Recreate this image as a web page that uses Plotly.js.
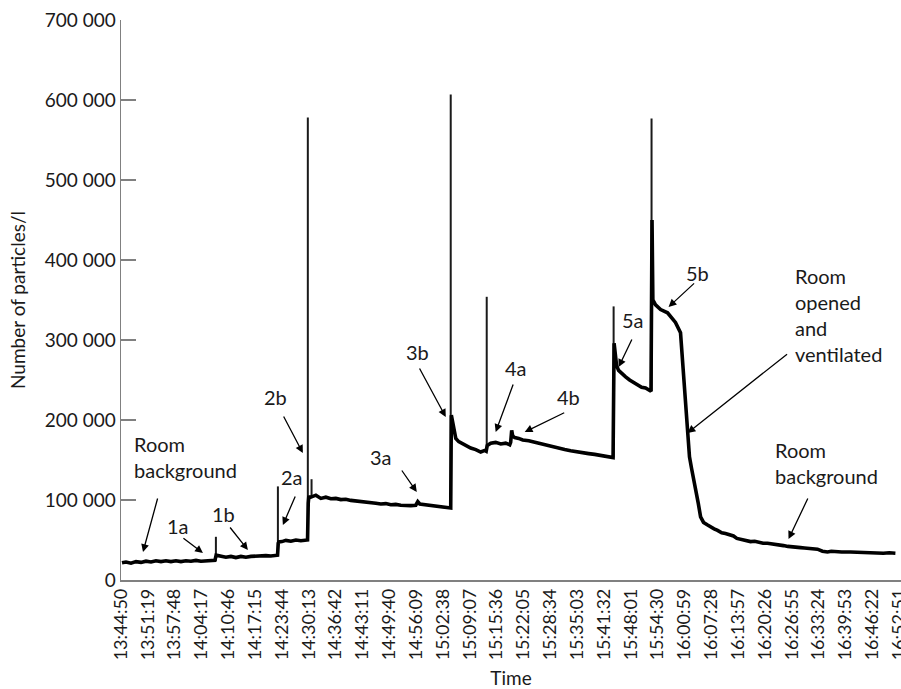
<!DOCTYPE html>
<html>
<head>
<meta charset="utf-8">
<script src="https://cdn.plot.ly/plotly-3.0.1.min.js"></script>
<style>html,body{margin:0;padding:0;background:#fff;}#chart{width:901px;height:689px;}</style>
</head>
<body>
<div id="chart"></div>
<script>
// Elapsed seconds since 13:44:50 and particle counts (particles/l)
const elapsedSec = [14,72,145,217,290,362,435,507,580,652,724,797,869,942,1014,1087,1159,1232,1304,1362,
  1380,1449,1521,1594,1666,1739,1811,1884,1956,2028,2101,2173,2260,
  2270,2280,2289,2333,2391,2463,2536,2608,2695,
  2705,2715,2724,2738,2763,2782,2825,2898,2970,3043,3115,3188,3260,3332,3405,3477,3550,3622,3695,3767,3840,3912,3984,4057,4129,4202,4274,4303,4332,4419,4492,4564,4636,4709,4767,
  4781,4790,4803,4825,4854,4897,4955,5013,5071,5144,5216,5274,5295,
  5310,5361,5433,5506,5578,5636,5650,5665,5680,5709,5767,5825,5912,5998,6085,6172,6259,6346,6433,6520,6607,6694,6781,6868,6955,7042,7114,7135,
  7150,7165,7186,7215,7259,7317,7375,7433,7491,7549,7606,7664,7685,
  7700,7705,7712,7751,7824,7925,8040,8113,8142,8186,8219,8243,8272,8301,8335,8370,8404,8447,8500,8548,8600,8650,8710,8765,8820,8881,8930,8982,9050,9128,9190,9244,9310,9374,9430,9490,9550,9606,9670,9737,9800,9853,9910,9968,10030,10099,10171,10244,10300,10360,10450,10577,10680,10794,10920,11055,11140,11229,11316];
const particles = [21500,22500,21000,23000,22000,23500,22500,24000,23000,24000,23000,24000,23000,24000,23500,24500,23500,24000,24000,24500,
  31000,29500,28500,29500,28000,29500,28500,29500,30000,29500,30500,30000,31000,
  31000,46000,47500,48000,49500,48500,50000,49000,50500,
  50000,96000,105000,103000,104000,104000,106000,102000,103500,101500,102000,100500,101000,99500,99000,98000,97500,96500,96000,95000,95500,94000,94500,93500,93000,93000,93500,98000,95000,94000,93000,92500,92000,91000,90500,
  90000,206000,200000,185000,177000,173000,170000,167000,165000,163000,160000,162000,161000,
  168000,171000,172000,170000,171000,169000,172000,187000,180000,178000,177000,175000,174000,172000,170000,168000,166000,164500,163000,161500,160000,159000,158000,157000,156000,155000,154000,153000,
  296000,280000,268000,262000,258000,254000,250000,247000,244000,241000,240000,237000,236000,
  450000,390000,350000,344000,338000,334000,322000,309000,275000,225000,179000,154000,140000,125000,112000,96000,79000,72000,69000,66000,64000,62000,59000,58000,56000,55000,52000,51000,49000,48000,48500,47000,46000,46000,45500,44000,44500,43000,42000,41500,42000,40500,40000,39500,38500,38500,36000,35000,36000,35500,35000,35000,34500,34500,34000,33500,34000,33500];

// Short transient peaks (thin spikes)
const spikeSec  = [1376, 2275, 2709, 2763, 4781, 5303, 7143, 7693];
const spikeBase = [24000, 31000, 50000, 104000, 90000, 162000, 153000, 236000];
const spikePeak = [54000, 117000, 578000, 126000, 607000, 354000, 342000, 577000];

// Axis tick labels (clock time)
const tickLabels = ['13:44:50','13:51:19','13:57:48','14:04:17','14:10:46','14:17:15','14:23:44','14:30:13','14:36:42','14:43:11',
  '14:49:40','14:56:09','15:02:38','15:09:07','15:15:36','15:22:05','15:28:34','15:35:03','15:41:32','15:48:01',
  '15:54:30','16:00:59','16:07:28','16:13:57','16:20:26','16:26:55','16:33:24','16:39:53','16:46:22','16:52:51'];
const yTicks = [0,100000,200000,300000,400000,500000,600000,700000];

function toSec(s){const p=s.split(':').map(Number);return p[0]*3600+p[1]*60+p[2];}
const t0 = toSec(tickLabels[0]);
const tickVals = tickLabels.map(l => toSec(l) - t0);

const sx=[], sy=[];
spikeSec.forEach((s,i)=>{sx.push(s,s,null); sy.push(spikeBase[i],spikePeak[i],null);});

const FONT = 'Lato, "Noto Sans", sans-serif';
const traces = [
  {x: sx, y: sy, mode:'lines', line:{color:'#1a1a1a', width:2}, hoverinfo:'skip', showlegend:false},
  {x: elapsedSec, y: particles, mode:'lines', line:{color:'#000', width:3.6}, showlegend:false}
];

function arrow(x,y,ax,ay){return {x:x,y:y,xref:'x',yref:'y',text:'',showarrow:true,ax:ax,ay:ay,arrowhead:2,arrowsize:1.2,arrowwidth:1.3,arrowcolor:'#000'};}
function label(x,y,t,anchor){return {x:x,y:y,xref:'x',yref:'y',text:t,showarrow:false,xanchor:anchor||'center',yanchor:'middle',align:'left',font:{family:FONT,size:20,color:'#1a1a1a'}};}

const annotations = [
  arrow(319,35000,15,-55), arrow(1188,33750,-21,-16), arrow(1840,37500,-19,-24),
  arrow(2347,68750,13,-30), arrow(2637,158750,-20,-38), arrow(4289,110000,-16,-23),
  arrow(4709,203750,-27,-50), arrow(5433,185000,18,-49), arrow(5854,185000,41,-20),
  arrow(7215,266250,14,-29), arrow(7940,341250,27,-25), arrow(8215,183750,101,-80),
  arrow(9679,51250,20,-42),
  label(159,154375,'Room<br>background','left'),
  label(826,67500,'1a'), label(1492,82500,'1b'), label(2478,128750,'2a'), label(2246,228750,'2b'),
  label(3767,153750,'3a'), label(4303,285000,'3b'), label(5723,265000,'4a'), label(6491,228750,'4b'),
  label(7418,325000,'5a'), label(8360,383750,'5b'),
  label(9751,331875,'Room<br>opened<br>and<br>ventilated','left'),
  label(9447,146250,'Room<br>background','left')
];

const layout = {
  width:901, height:689,
  margin:{l:121, r:0, t:20, b:109},
  paper_bgcolor:'#fff', plot_bgcolor:'#fff',
  separators:'. ',
  font:{family:FONT, color:'#1a1a1a'},
  showlegend:false,
  xaxis:{
    range:[0,11310], showgrid:false, zeroline:false,
    showline:true, linecolor:'#808080', linewidth:1.5,
    ticks:'', tickmode:'array', tickvals:tickVals, ticktext:tickLabels,
    ticklabeloverflow:'allow',
    tickangle:-90, tickfont:{family:FONT, size:18, color:'#1a1a1a'},
    title:{text:'Time', font:{family:FONT, size:19, color:'#1a1a1a'}, standoff:13}
  },
  yaxis:{
    range:[0,700000], showgrid:false, zeroline:false,
    showline:true, linecolor:'#808080', linewidth:1.5,
    ticks:'inside', ticklen:15, tickwidth:1.5, tickcolor:'#808080',
    tickmode:'array', tickvals:yTicks, tickformat:',d',
    tickfont:{family:FONT, size:19, color:'#1a1a1a'},
    title:{text:'Number of particles/l', font:{family:FONT, size:19, color:'#1a1a1a'}, standoff:14}
  },
  annotations: annotations
};

Plotly.newPlot('chart', traces, layout, {displayModeBar:false, staticPlot:true});
</script>
</body>
</html>
